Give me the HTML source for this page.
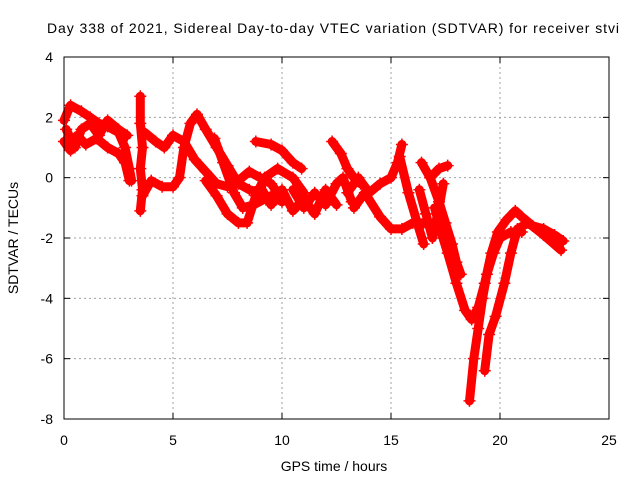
<!DOCTYPE html>
<html><head><meta charset="utf-8"><style>
body{margin:0;background:#fff;}
svg{display:block;font-family:"Liberation Sans",sans-serif;}
</style></head><body>
<svg id="chart" width="640" height="480" xmlns="http://www.w3.org/2000/svg">
<rect width="640" height="480" fill="#fff"/>
<text x="333" y="33" font-size="14" text-anchor="middle" textLength="572">Day 338 of 2021, Sidereal Day-to-day VTEC variation (SDTVAR) for receiver stvi</text>
<g id="grid"></g>
<g id="ticks"></g>
<g id="series"></g>
<rect x="64" y="57" width="545" height="362" fill="none" stroke="#000" stroke-width="1"/>
<text x="18" y="238" font-size="14" text-anchor="middle" transform="rotate(-90 18 238)">SDTVAR / TECUs</text>
<text x="334" y="471" font-size="14" text-anchor="middle">GPS time / hours</text>
</svg>
<script>
const xTicks=[0,5,10,15,20,25];
const yTicks=[4,2,0,-2,-4,-6,-8];
const trackA=[[0,1.9],[0.3,2.4],[0.8,2.2],[1.2,2.0],[1.6,1.8],[2.0,1.7],[2.5,1.5],[2.8,1.0],[3.0,0.3],[3.1,-0.1]];
const trackB=[[0,1.2],[0.3,0.9],[0.6,1.4],[1.0,1.1],[1.5,1.3],[2.0,1.0],[2.5,0.8],[2.8,0.5],[3.0,-0.1]];
const trackC=[[0.1,1.6],[0.5,1.0],[0.8,1.6],[1.2,1.8],[1.6,1.4],[2.0,1.9],[2.5,1.6],[2.9,1.4]];
const trackD=[[3.5,2.7],[3.5,1.8],[3.6,1.0],[3.5,0.3],[3.6,-0.4],[3.5,-1.1]];
const trackE=[[3.6,-0.6],[4.0,-0.1],[4.5,-0.3],[5.0,-0.3],[5.3,0.0],[5.5,1.0],[5.8,1.8],[6.1,2.1],[6.5,1.6],[7.0,1.0],[7.5,0.4],[8.0,-0.2],[8.5,-0.4],[9.0,-0.5]];
const trackF=[[3.7,1.5],[4.2,1.2],[4.6,1.0],[5.0,1.4],[5.5,1.2],[6.0,0.6],[6.5,0.2],[7.0,-0.2],[7.5,-0.3],[8.0,-0.1],[8.5,0.2],[9.0,0.0],[9.5,-0.2],[10.0,-0.7]];
const trackG=[[6.5,-0.1],[7.0,-0.6],[7.5,-1.2],[8.0,-1.5],[8.4,-1.5],[8.8,-0.6],[9.2,0.0],[9.8,0.3],[10.5,0.0],[11.0,-0.5]];
const trackH=[[6.9,1.3],[7.3,0.5],[7.8,-0.5],[8.2,-1.0],[8.7,-0.9],[9.5,-0.6],[10.0,-0.8]];
const trackI=[[8.8,1.2],[9.5,1.1],[10.0,0.9],[10.5,0.5],[10.9,0.3]];
const trackJ=[[10.5,-0.4],[11.0,-1.0],[11.5,-0.5],[12.0,-0.9],[12.5,-0.2],[12.8,0.0],[13.2,-0.8]];
const trackK=[[12.3,1.2],[12.7,0.8],[13.0,0.3],[13.3,0.0],[13.6,-0.2]];
const trackL=[[13.0,-0.5],[13.5,0.0],[14.0,-0.5],[14.5,-0.2],[15.0,0.0],[15.3,0.5],[15.5,1.1]];
const trackM=[[13.3,-1.0],[13.8,-0.5],[14.5,-1.3],[15.0,-1.7],[15.5,-1.7],[16.0,-1.5],[16.5,-1.5],[17.0,-1.6]];
const trackN=[[15.4,0.7],[15.8,-0.5],[16.2,-1.5],[16.5,-2.2]];
const trackO=[[16.4,0.5],[16.8,0.0],[17.2,-0.8],[17.5,-1.5],[17.8,-2.2],[18.0,-2.8],[18.2,-3.2]];
const trackP=[[16.8,0.0],[17.2,0.3],[17.6,0.4]];
const trackQ=[[17.0,-1.0],[17.3,-1.8],[17.6,-2.5],[18.0,-3.5],[18.4,-4.4],[18.7,-4.7],[19.0,-4.3],[19.3,-3.5],[19.6,-2.5],[19.9,-1.8],[20.3,-1.4],[20.7,-1.1],[21.0,-1.3],[21.5,-1.6],[22.0,-1.7],[22.5,-1.9],[22.9,-2.1]];
const trackR=[[18.6,-7.4],[18.8,-6.0],[19.0,-5.0],[19.2,-4.0],[19.4,-3.2],[19.7,-2.5],[20.0,-2.0],[20.5,-1.8],[21.0,-1.8]];
const trackS=[[19.3,-6.4],[19.5,-5.2],[19.8,-4.6],[20.2,-3.5],[20.5,-2.5],[20.8,-1.7],[21.3,-1.5],[22.0,-1.9],[22.8,-2.4]];
const trackT=[[9.0,-0.3],[9.5,-0.9],[10.0,-0.4],[10.5,-1.1],[11.0,-0.7],[11.5,-1.2],[12.0,-0.4],[12.5,-0.9]];
const trackU=[[16.3,-0.4],[16.6,-1.2],[16.9,-2.0],[17.2,-1.0],[17.4,-0.2]];
const tracks=[trackA,trackB,trackC,trackD,trackE,trackF,trackG,trackH,trackI,trackJ,trackK,trackL,trackM,trackN,trackO,trackP,trackQ,trackR,trackS,trackT,trackU];

const X0=64,X1=609,Y0=419,Y1=57;
function xs(t){return X0+(t-0)/(25-0)*(X1-X0);}
function ys(v){return Y0-(v+8)/(4+8)*(Y0-Y1);}
const NS='http://www.w3.org/2000/svg';
const grid=document.getElementById('grid'),ticks=document.getElementById('ticks'),series=document.getElementById('series');
function mk(tag,attrs,parent){const e=document.createElementNS(NS,tag);for(const k in attrs)e.setAttribute(k,attrs[k]);parent.appendChild(e);return e;}
xTicks.forEach(t=>{
  const x=xs(t);
  if(t>0&&t<25){const l=mk('line',{x1:x,y1:Y1,x2:x,y2:Y0,stroke:'#a0a0a0','stroke-dasharray':'2,3'},grid);
  
  }
  const tk=mk('text',{x:x,y:445,'font-size':14,'text-anchor':'middle'},ticks);
  tk.textContent=t;
  
  
});
yTicks.forEach(v=>{
  const y=ys(v);
  if(v<4&&v>-8){const l=mk('line',{x1:X0,y1:y,x2:X1,y2:y,stroke:'#a0a0a0','stroke-dasharray':'2,3'},grid);
  
  }
  mk('line',{x1:X0,y1:y,x2:X0+6,y2:y,stroke:'#000'},grid);
  mk('line',{x1:X1-6,y1:y,x2:X1,y2:y,stroke:'#000'},grid);
  const tk=mk('text',{x:53,y:y+5,'font-size':14,'text-anchor':'end'},ticks);
  tk.textContent=v;
  
  
});
xTicks.forEach(t=>{const x=xs(t);mk('line',{x1:x,y1:Y0,x2:x,y2:Y0-6,stroke:'#000'},grid);mk('line',{x1:x,y1:Y1,x2:x,y2:Y1+6,stroke:'#000'},grid);});
tracks.forEach((tr,i)=>{
  const d=tr.map((p,j)=>(j?'L':'M')+xs(p[0]).toFixed(1)+','+ys(p[1]).toFixed(1)).join(' ');
  const path=mk('path',{d:d,fill:'none',stroke:'#ff0000','stroke-width':9,'stroke-linejoin':'round','stroke-linecap':'round'},series);
  
  
  tr.forEach(p=>{
    const x=xs(p[0]),y=ys(p[1]);
    const m=mk('path',{d:`M${x-6},${y}H${x+6}M${x},${y-6}V${y+6}`,stroke:'#ff0000','stroke-width':1.5},series);
    
    
  });
});
</script>
</body></html>
